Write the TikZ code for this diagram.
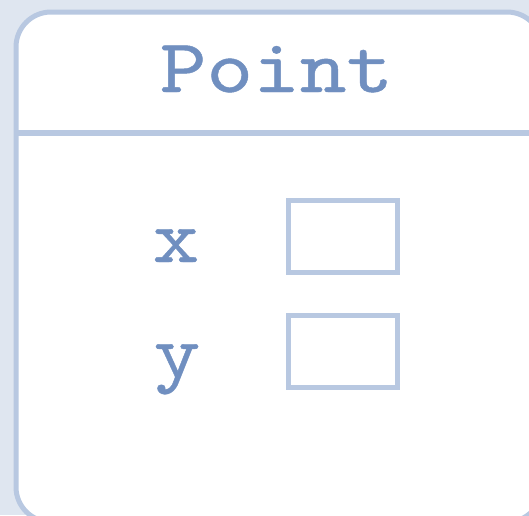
\documentclass[tikz,border=0pt]{standalone}
\usepackage{fontspec}
\setmonofont{lmmono10-regular.otf}[FakeStretch=1.17,FakeBold=0.6]
\usetikzlibrary{positioning}
\definecolor{paper}{RGB}{223,230,240}
\definecolor{frame}{RGB}{184,200,225}
\definecolor{label}{RGB}{112,143,192}
\tikzset{
  classbox/.style={draw=frame,fill=white,line width=5pt,rounded corners=35pt},
  divider/.style={draw=frame,line width=5.5pt},
  fieldbox/.style={draw=frame,fill=white,line width=5pt,minimum width=109pt,
    minimum height=72pt,inner sep=0pt},
  classname/.style={text=label,font=\ttfamily\fontsize{76}{76}\selectfont,
    anchor=base,inner sep=0pt},
  fieldname/.style={classname},
}

\begin{document}
\begin{tikzpicture}[x=1pt,y=-1pt]
    \fill[paper] (0,0) rectangle (529,515);
    \useasboundingbox (0,0) rectangle (529,515);
    % class outline, running off the right and bottom edge
    \coordinate (nw) at (16,12);
    \coordinate (se) at (542,522);
    \path[classbox] (nw) rectangle (se);
    \coordinate (divl) at (16,133);
    \coordinate (divr) at (542,133);
    \draw[divider] (divl) -- (divr);
    \node[classname] (title) at (276.5,92) {Point};
    % fields
    \node[fieldbox] (xbox) at (342.5,236) {};
    \node[fieldbox] (ybox) at (342.5,351) {};
    \node[fieldname] (xname) at (176,262) {x};
    \node[fieldname] (yname) at (177,377) {y};
\end{tikzpicture}
\end{document}
